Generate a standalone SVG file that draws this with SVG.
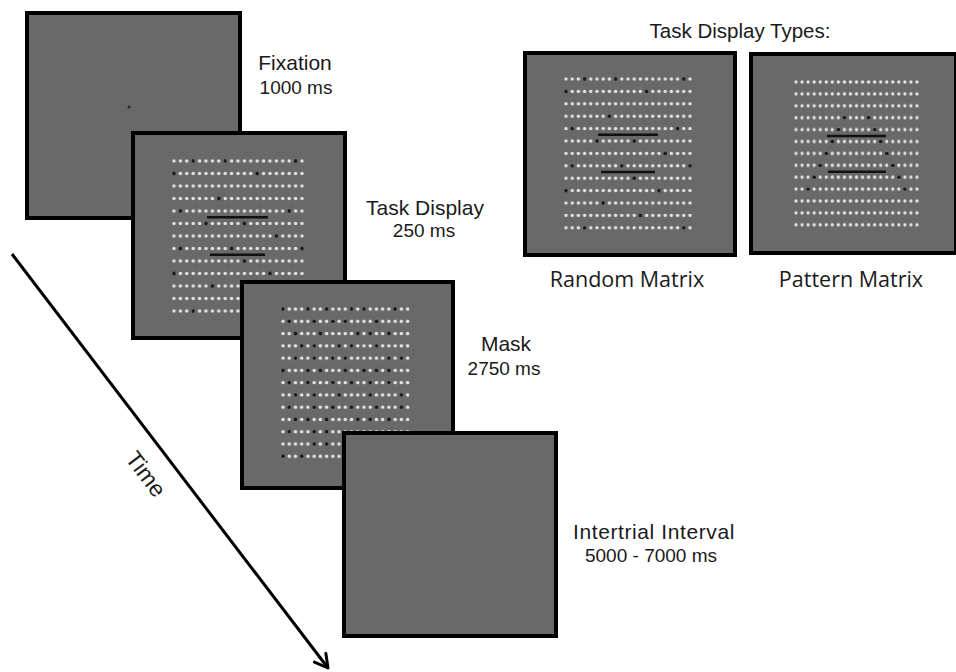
<svg xmlns="http://www.w3.org/2000/svg" width="956" height="672" viewBox="0 0 956 672">
<style>
.panel{fill:#696969;stroke:#000;stroke-width:4}
.dk{fill:#1c1c1c}
.bar{stroke:#111;stroke-width:2.5}
.t{font-family:"Liberation Sans",Arial,sans-serif;fill:#1a1a1a;text-anchor:middle}
.ti{font-size:21px}
.su{font-size:19px}
.os{font-family:"Open Sans","Liberation Sans",sans-serif;font-size:21.5px;fill:#1a1a1a;text-anchor:middle}
</style>
<defs>
<pattern id="pT" patternUnits="userSpaceOnUse" x="170.8" y="154.75" width="6.4" height="12.5"><circle cx="3.2" cy="6.25" r="1.75" fill="#e4e4e4"/></pattern>
<pattern id="pM" patternUnits="userSpaceOnUse" x="279.885" y="302.865" width="6.23" height="12.27"><circle cx="3.115" cy="6.135" r="1.75" fill="#e4e4e4"/></pattern>
<pattern id="pR" patternUnits="userSpaceOnUse" x="562.9" y="72.8" width="6.2" height="12.4"><circle cx="3.1" cy="6.2" r="1.75" fill="#e4e4e4"/></pattern>
<pattern id="pP" patternUnits="userSpaceOnUse" x="792.975" y="76.05" width="6.05" height="11.9"><circle cx="3.025" cy="5.95" r="1.7" fill="#e4e4e4"/></pattern>
<marker id="ah" markerUnits="userSpaceOnUse" markerWidth="18" markerHeight="18" viewBox="0 0 18 16" refX="15" refY="8" orient="auto"><path d="M2,0.8 L15,8 L2,15.2" fill="none" stroke="#000" stroke-width="3" stroke-linecap="round" stroke-linejoin="round"/></marker>
</defs>
<rect width="956" height="672" fill="#fff"/>

<g id="connectors">
<line x1="12" y1="254" x2="328" y2="668" stroke="#000" stroke-width="3" marker-end="url(#ah)"/>
<text class="t" font-size="23" transform="translate(146,474) rotate(53)" dy="8">Time</text>
</g>

<g id="fixation">
<rect class="panel" x="27" y="13" width="213" height="205"/>
<circle cx="129" cy="107" r="1.5" fill="#2a2a2a"/>
<text class="t ti" x="295" y="70">Fixation</text>
<text class="t su" x="296" y="94">1000 ms</text>
</g>

<g id="task-display">
<rect class="panel" x="133" y="133" width="212" height="205"/>
<rect x="170.8" y="154.75" width="134.4" height="162.5" fill="url(#pT)"/>
<g class="dk">
<circle cx="193.2" cy="161" r="1.9"/><circle cx="225.2" cy="161" r="1.9"/><circle cx="295.6" cy="161" r="1.9"/>
<circle cx="174" cy="173.5" r="1.9"/><circle cx="257.2" cy="173.5" r="1.9"/>
<circle cx="218.8" cy="198.5" r="1.9"/>
<circle cx="180.4" cy="211" r="1.9"/><circle cx="289.2" cy="211" r="1.9"/>
<circle cx="206" cy="223.5" r="1.9"/><circle cx="244.4" cy="223.5" r="1.9"/>
<circle cx="276.4" cy="236" r="1.9"/>
<circle cx="180.4" cy="248.5" r="1.9"/><circle cx="231.6" cy="248.5" r="1.9"/><circle cx="302" cy="248.5" r="1.9"/>
<circle cx="244.4" cy="261" r="1.9"/>
<circle cx="174" cy="273.5" r="1.9"/><circle cx="270" cy="273.5" r="1.9"/>
<circle cx="212.4" cy="286" r="1.9"/>
<circle cx="250.8" cy="298.5" r="1.9"/>
<circle cx="193.2" cy="311" r="1.9"/><circle cx="295.6" cy="311" r="1.9"/>
</g>
<line class="bar" x1="207" y1="217.2" x2="268" y2="217.2"/>
<line class="bar" x1="210" y1="254.8" x2="265" y2="254.8"/>
<text class="t ti" x="425" y="215">Task Display</text>
<text class="t su" x="424" y="237">250 ms</text>
</g>

<g id="mask">
<rect class="panel" x="242" y="282" width="211" height="206"/>
<rect x="279.885" y="302.865" width="130.83" height="159.51" fill="url(#pM)"/>
<g class="dk">
<circle cx="283" cy="309" r="1.9"/><circle cx="307.9" cy="309" r="1.9"/><circle cx="326.6" cy="309" r="1.9"/><circle cx="351.5" cy="309" r="1.9"/><circle cx="364" cy="309" r="1.9"/><circle cx="395.1" cy="309" r="1.9"/>
<circle cx="289.2" cy="321.3" r="1.9"/><circle cx="314.2" cy="321.3" r="1.9"/><circle cx="332.8" cy="321.3" r="1.9"/><circle cx="345.3" cy="321.3" r="1.9"/><circle cx="376.5" cy="321.3" r="1.9"/>
<circle cx="295.5" cy="333.5" r="1.9"/><circle cx="320.4" cy="333.5" r="1.9"/><circle cx="357.8" cy="333.5" r="1.9"/><circle cx="370.2" cy="333.5" r="1.9"/><circle cx="388.9" cy="333.5" r="1.9"/>
<circle cx="301.7" cy="345.8" r="1.9"/><circle cx="314.2" cy="345.8" r="1.9"/><circle cx="339.1" cy="345.8" r="1.9"/><circle cx="351.5" cy="345.8" r="1.9"/><circle cx="376.5" cy="345.8" r="1.9"/>
<circle cx="295.5" cy="358.1" r="1.9"/><circle cx="314.2" cy="358.1" r="1.9"/><circle cx="332.8" cy="358.1" r="1.9"/><circle cx="345.3" cy="358.1" r="1.9"/><circle cx="388.9" cy="358.1" r="1.9"/><circle cx="401.4" cy="358.1" r="1.9"/>
<circle cx="283" cy="370.4" r="1.9"/><circle cx="307.9" cy="370.4" r="1.9"/><circle cx="320.4" cy="370.4" r="1.9"/><circle cx="345.3" cy="370.4" r="1.9"/><circle cx="364" cy="370.4" r="1.9"/><circle cx="376.5" cy="370.4" r="1.9"/><circle cx="388.9" cy="370.4" r="1.9"/>
<circle cx="289.2" cy="382.6" r="1.9"/><circle cx="307.9" cy="382.6" r="1.9"/><circle cx="332.8" cy="382.6" r="1.9"/><circle cx="351.5" cy="382.6" r="1.9"/><circle cx="370.2" cy="382.6" r="1.9"/><circle cx="388.9" cy="382.6" r="1.9"/>
<circle cx="295.5" cy="394.9" r="1.9"/><circle cx="314.2" cy="394.9" r="1.9"/><circle cx="339.1" cy="394.9" r="1.9"/><circle cx="370.2" cy="394.9" r="1.9"/><circle cx="401.4" cy="394.9" r="1.9"/>
<circle cx="289.2" cy="407.2" r="1.9"/><circle cx="314.2" cy="407.2" r="1.9"/><circle cx="332.8" cy="407.2" r="1.9"/><circle cx="351.5" cy="407.2" r="1.9"/><circle cx="376.5" cy="407.2" r="1.9"/><circle cx="401.4" cy="407.2" r="1.9"/>
<circle cx="295.5" cy="419.4" r="1.9"/><circle cx="307.9" cy="419.4" r="1.9"/><circle cx="326.6" cy="419.4" r="1.9"/><circle cx="357.8" cy="419.4" r="1.9"/><circle cx="370.2" cy="419.4" r="1.9"/><circle cx="388.9" cy="419.4" r="1.9"/>
<circle cx="289.2" cy="431.7" r="1.9"/><circle cx="314.2" cy="431.7" r="1.9"/><circle cx="326.6" cy="431.7" r="1.9"/>
<circle cx="314.2" cy="444" r="1.9"/><circle cx="326.6" cy="444" r="1.9"/>
<circle cx="283" cy="456.2" r="1.9"/><circle cx="301.7" cy="456.2" r="1.9"/>
</g>
<text class="t ti" x="506" y="351">Mask</text>
<text class="t su" x="504" y="375">2750 ms</text>
</g>

<g id="intertrial-interval">
<rect class="panel" x="344" y="433" width="212" height="203"/>
<text class="t ti" x="654" y="539" letter-spacing="0.6">Intertrial Interval</text>
<text class="t su" x="651" y="562">5000 - 7000 ms</text>
</g>

<g id="display-types-title">
<text class="t" font-size="20.5" x="740" y="38">Task Display Types:</text>
</g>

<g id="random-matrix">
<rect class="panel" x="525" y="53" width="210" height="202"/>
<rect x="562.9" y="72.8" width="130.2" height="161.2" fill="url(#pR)"/>
<g class="dk">
<circle cx="584.6" cy="79" r="1.9"/><circle cx="615.6" cy="79" r="1.9"/><circle cx="683.8" cy="79" r="1.9"/>
<circle cx="566" cy="91.4" r="1.9"/><circle cx="646.6" cy="91.4" r="1.9"/>
<circle cx="609.4" cy="116.2" r="1.9"/>
<circle cx="572.2" cy="128.6" r="1.9"/><circle cx="677.6" cy="128.6" r="1.9"/>
<circle cx="597" cy="141" r="1.9"/><circle cx="634.2" cy="141" r="1.9"/>
<circle cx="665.2" cy="153.4" r="1.9"/>
<circle cx="572.2" cy="165.8" r="1.9"/><circle cx="621.8" cy="165.8" r="1.9"/><circle cx="690" cy="165.8" r="1.9"/>
<circle cx="634.2" cy="178.2" r="1.9"/>
<circle cx="566" cy="190.6" r="1.9"/><circle cx="659" cy="190.6" r="1.9"/>
<circle cx="603.2" cy="203" r="1.9"/>
<circle cx="640.4" cy="215.4" r="1.9"/>
<circle cx="584.6" cy="227.8" r="1.9"/><circle cx="683.8" cy="227.8" r="1.9"/>
</g>
<line class="bar" x1="598" y1="134.8" x2="658" y2="134.8"/>
<line class="bar" x1="601" y1="172" x2="655" y2="172"/>
<text class="os" x="627" y="287">Random Matrix</text>
</g>

<g id="pattern-matrix">
<rect class="panel" x="751" y="54" width="205" height="199"/>
<rect x="792.975" y="76.05" width="127.05" height="154.7" fill="url(#pP)"/>
<g class="dk">
<circle cx="844.4" cy="117.7" r="1.9"/><circle cx="868.6" cy="117.7" r="1.9"/>
<circle cx="838.4" cy="129.6" r="1.9"/><circle cx="874.7" cy="129.6" r="1.9"/>
<circle cx="832.3" cy="141.5" r="1.9"/><circle cx="880.7" cy="141.5" r="1.9"/>
<circle cx="826.3" cy="153.4" r="1.9"/><circle cx="886.8" cy="153.4" r="1.9"/>
<circle cx="820.2" cy="165.3" r="1.9"/><circle cx="892.8" cy="165.3" r="1.9"/>
<circle cx="814.2" cy="177.2" r="1.9"/><circle cx="898.9" cy="177.2" r="1.9"/>
<circle cx="808.1" cy="189.1" r="1.9"/><circle cx="904.9" cy="189.1" r="1.9"/>
</g>
<line class="bar" x1="827" y1="136" x2="886" y2="136"/>
<line class="bar" x1="828" y1="171.7" x2="886" y2="171.7"/>
<text class="os" x="851" y="287">Pattern Matrix</text>
</g>
</svg>
